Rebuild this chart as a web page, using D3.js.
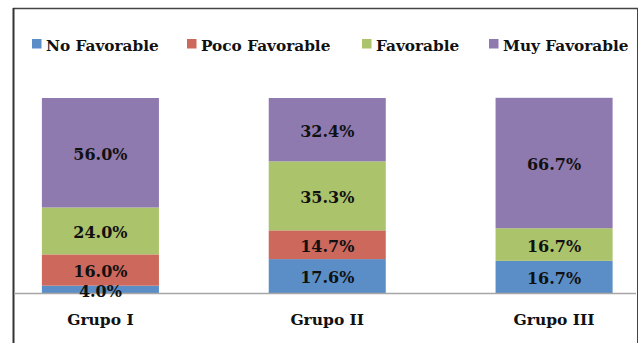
<!DOCTYPE html>
<html>
<head>
<meta charset="utf-8">
<script src="https://cdn.jsdelivr.net/npm/d3@7"></script>
<style>
body { margin:0; background:#fff; }
text { font-family: "DejaVu Serif", serif; font-weight: bold; fill:#111; }
</style>
</head>
<body>
<script>
var grupos = ["Grupo I", "Grupo II", "Grupo III"]
var series = ["No Favorable", "Poco Favorable", "Favorable", "Muy Favorable"]
var colores = ["#5b8ec6", "#cd685d", "#abc36b", "#8f7ab0"]

var noFavorable = [4.0, 17.6, 16.7]
var pocoFavorable = [16.0, 14.7, 0]
var favorable = [24.0, 35.3, 16.7]
var muyFavorable = [56.0, 32.4, 66.7]

var screen = {width: 640, height: 343}

var svg = d3.select("body").append("svg")
  .attr("width", screen.width)
  .attr("height", screen.height)

// marco del grafico
svg.append("line").attr("x1", 13).attr("x2", 638).attr("y1", 8.5).attr("y2", 8.5)
  .attr("stroke", "#444").attr("stroke-width", 1.5)
svg.append("line").attr("x1", 13.5).attr("x2", 13.5).attr("y1", 8).attr("y2", 343)
  .attr("stroke", "#333").attr("stroke-width", 2)
svg.append("line").attr("x1", 637.5).attr("x2", 637.5).attr("y1", 8).attr("y2", 343)
  .attr("stroke", "#444").attr("stroke-width", 1)

var tabla = grupos.map(function(g, i) {
  return {grupo: g, "No Favorable": noFavorable[i], "Poco Favorable": pocoFavorable[i],
          "Favorable": favorable[i], "Muy Favorable": muyFavorable[i]}
})

var stack = d3.stack().keys(series)(tabla)

var x = d3.scaleBand()
  .domain(grupos)
  .range([-13, 667.5])
  .paddingInner(0.484)
  .paddingOuter(0.242)

var y = d3.scaleLinear().domain([0, 100]).range([293.5, 98])

var color = d3.scaleOrdinal().domain(series).range(colores)

var capas = svg.selectAll("g.capa")
  .data(stack)
  .enter()
  .append("g")
  .attr("class", "capa")
  .attr("fill", function(d) { return color(d.key) })

capas.selectAll("rect")
  .data(function(d) { return d })
  .enter()
  .append("rect")
  .attr("x", function(d) { return x(d.data.grupo) })
  .attr("width", x.bandwidth())
  .attr("y", function(d) { return y(d[1]) })
  .attr("height", function(d) { return y(d[0]) - y(d[1]) })

// eje x
var eje = svg.append("g")
  .attr("transform", "translate(0,293.5)")
  .call(d3.axisBottom(x).tickSize(0).tickPadding(20))
eje.select(".domain").attr("d", "M14,0H636").attr("stroke", "#a6a6a6").attr("stroke-width", 1.5)
eje.selectAll("text").attr("font-size", 15.5).attr("font-family", "DejaVu Serif").attr("fill", "#111")

// etiquetas (encima del eje)
var etiquetas = svg.append("g")
etiquetas.selectAll("g")
  .data(stack)
  .enter()
  .append("g")
  .selectAll("text")
  .data(function(d) { return d.filter(function(p) { return p[1] - p[0] > 0 }) })
  .enter()
  .append("text")
  .attr("x", function(d) { return x(d.data.grupo) + x.bandwidth()/2 })
  .attr("y", function(d) { return (y(d[0]) + y(d[1]))/2 })
  .attr("dy", "0.45em")
  .attr("text-anchor", "middle")
  .attr("font-size", 16)
  .text(function(d) { return d3.format(".1f")(d[1] - d[0]) + "%" })

// leyenda
var legendX = [32, 187, 362, 489]
var legend = svg.append("g").attr("class", "legend")

legend.selectAll("rect")
  .data(series)
  .enter()
  .append("rect")
  .attr("x", function(d, i) { return legendX[i] })
  .attr("y", 39)
  .attr("width", 9.5)
  .attr("height", 9.5)
  .attr("fill", function(d) { return color(d) })

legend.selectAll("text")
  .data(series)
  .enter()
  .append("text")
  .attr("x", function(d, i) { return legendX[i] + 14 })
  .attr("y", 51)
  .attr("font-size", 15.3)
  .text(function(d) { return d })
</script>
</body>
</html>
